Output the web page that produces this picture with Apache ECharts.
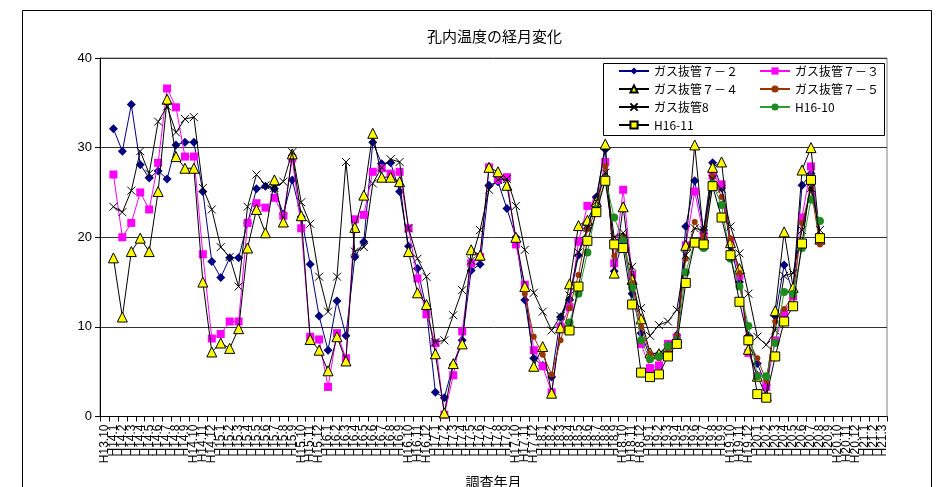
<!DOCTYPE html>
<html>
<head>
<meta charset="utf-8">
<script src="https://cdn.jsdelivr.net/npm/echarts@6/dist/echarts.min.js"></script>
<style>
html,body{margin:0;padding:0;background:#fff;}
#chart{width:952px;height:487px;}
</style>
</head>
<body>
<div id="chart"></div>
<script>
const categories = ['H13.10',
 'H14.1','H14.2','H14.3','H14.4','H14.5','H14.6','H14.7','H14.8','H14.9','H14.10','H14.11','H14.12',
 'H15.1','H15.2','H15.3','H15.4','H15.5','H15.6','H15.7','H15.8','H15.9','H15.10','H15.11','H15.12',
 'H16.1','H16.2','H16.3','H16.4','H16.5','H16.6','H16.7','H16.8','H16.9','H16.10','H16.11','H16.12',
 'H17.1','H17.2','H17.3','H17.4','H17.5','H17.6','H17.7','H17.8','H17.9','H17.10','H17.11','H17.12',
 'H18.1','H18.2','H18.3','H18.4','H18.5','H18.6','H18.7','H18.8','H18.9','H18.10','H18.11','H18.12',
 'H19.1','H19.2','H19.3','H19.4','H19.5','H19.6','H19.7','H19.8','H19.9','H19.10','H19.11','H19.12',
 'H20.1','H20.2','H20.3','H20.4','H20.5','H20.6','H20.7','H20.8','H20.9','H20.10','H20.11','H20.12',
 'H21.1','H21.2','H21.3'];

const yTicks = [0, 10, 20, 30, 40];

const gas72 = [null, 32.1,29.6,34.8,28.1,26.6,27.4,26.5,30.3,30.6,30.6, 25.1,17.3,15.5,17.7,17.7,21.6,25.4,25.7,25.4,22.6,
 26.4,22.3,17.0,11.2,7.4,12.9,9.0,17.8,19.5,30.6, 28.2,28.3,25.1,19.0,16.5,12.0,2.7,2.1,5.8,8.5,
 16.3,17.0,25.8,26.2,23.2,20.0,13.0,6.5,5.7,4.4, 11.1,13.0,18.0,21.0,24.5,29.8,16.2,19.8,13.7,9.3,
 6.7,7.0,8.0,9.1,21.2,26.3,20.8,28.3,25.5,19.0, 15.0,9.0,5.9,3.5,11.2,16.9,13.8,25.8,27.1,20.0];

const gas73 = [null, 27.0,20.0,21.6,25.0,23.1,28.3,36.6,34.5,29.0,29.0, 18.1,8.7,9.2,10.6,10.6,21.6,23.8,23.3,24.4,22.4,
 28.8,21.0,8.9,8.6,3.3,9.3,6.5,22.0,22.5,27.3, 27.7,27.1,27.3,21.0,15.4,11.4,8.2,0.2,4.6,9.5,
 17.1,17.8,27.8,26.4,26.7,19.2,14.7,7.4,5.6,2.7, 10.0,12.2,19.5,23.5,23.8,28.4,17.1,25.3,15.8,8.1,
 5.4,5.7,8.1,8.8,19.1,25.1,20.2,26.9,25.9,19.5, 15.7,7.1,4.5,3.3,8.5,11.5,13.4,22.2,27.9,19.6];

const gas74 = [null, 17.7,11.1,18.4,19.9,18.4,25.1,35.4,29.0,27.7,27.7, 15.0,7.2,8.2,7.6,9.8,18.8,23.1,20.5,26.4,21.7,
 29.3,22.4,8.6,7.4,5.1,8.9,6.2,21.1,24.7,31.6, 26.7,26.7,26.2,18.4,13.8,12.5,7.0,0.4,5.9,8.1,
 18.6,18.0,27.8,27.3,25.8,20.0,14.5,5.6,7.8,2.6, 9.9,14.8,21.3,21.9,24.0,30.4,16.0,23.4,15.3,10.9,
 7.1,7.0,7.8,8.8,19.1,30.3,20.0,27.8,28.4,19.4, 16.5,7.5,4.5,2.3,11.8,20.6,14.4,27.5,30.0,19.8];

const gas75 = Array(47).fill(null).concat([13.7,8.9,6.9,4.7,8.5,12.1,15.8,20.9,23.0,27.9,17.9,20.1,14.9,10.0,7.0,6.5,7.5,9.0,
 17.6,21.7,20.0,26.8,24.5,19.9,16.0,8.5,6.5,4.0,10.6,12.0,13.5,21.6,25.4,19.2]);

const gas8 = [null, 23.4,22.8,25.2,29.6,27.1,32.9,34.6,31.7,33.2,33.4, 25.5,23.1,18.9,17.8,14.5,23.4,27.0,25.8,25.5,26.2,
 29.5,23.9,21.5,15.6,11.7,15.6,28.4,18.4,18.9,26.0, 27.8,28.7,28.4,21.0,17.6,15.6,8.3,8.5,11.3,14.1,
 17.4,20.8,25.3,26.4,26.5,23.5,18.6,13.8,11.7,9.6, 11.2,13.5,18.3,21.0,24.0,27.2,20.0,20.5,16.7,12.1,
 9.0,10.2,10.6,11.9,18.0,21.0,20.8,26.5,25.4,21.2, 18.2,13.7,8.9,8.0,9.6,15.7,16.0,20.8,25.5,20.8];

const h1610 = Array(52).fill(null).concat([10.5,13.7,18.3,23.1,26.5,22.2,19.6,14.4,8.5,6.4,6.7,7.9,8.5,16.1,19.5,18.8,
 26.0,23.6,17.6,14.5,10.1,4.5,4.5,8.2,13.9,13.7,18.8,24.2,21.8]);

const h1611 = Array(52).fill(null).concat([9.6,14.5,19.6,22.8,26.3,19.2,18.8,12.5,4.9,4.4,4.7,6.7,8.1,14.9,19.4,19.2,
 25.7,22.2,18.0,12.8,8.5,2.5,2.1,6.7,10.6,12.3,19.3,26.4,19.9]);

const names = ['ガス抜管７－２','ガス抜管７－３','ガス抜管７－４','ガス抜管７－５','ガス抜管8','H16-10','H16-11'];

const JP = '"Noto Sans CJK JP", sans-serif';
const crossPath = 'path://M0,0L10,10M10,0L0,10';

const styles = [
  {data: gas72, symbol: 'diamond', size: 9, fill: '#000080', border: '#000080', bw: 0, line: '#000080'},
  {data: gas73, symbol: 'rect', size: 8, fill: '#FF00FF', border: '#FF00FF', bw: 0, line: '#FF00FF'},
  {data: gas74, symbol: 'triangle', size: 10, fill: '#FFFF00', border: '#000000', bw: 1, line: '#000000'},
  {data: gas75, symbol: 'circle', size: 6, fill: '#993300', border: '#993300', bw: 0, line: '#993300'},
  {data: gas8, symbol: crossPath, size: 8, fill: '#000000', border: '#000000', bw: 1, line: '#000000'},
  {data: h1610, symbol: 'circle', size: 8, fill: '#1E8C1E', border: '#1E8C1E', bw: 0, line: '#339933'},
  {data: h1611, symbol: 'rect', size: 9, fill: '#FFFF00', border: '#000000', bw: 1, line: '#000000'}
];

const series = styles.map((s, i) => ({
  name: names[i],
  type: 'line',
  data: s.data,
  symbol: s.symbol,
  symbolSize: s.size,
  showAllSymbol: true,
  connectNulls: false,
  lineStyle: {color: s.line, width: 1},
  itemStyle: {color: s.fill, borderColor: s.border, borderWidth: s.bw},
  emphasis: {disabled: true},
  z: 2 + i
}));

const legendPos = [
  [618, 72], [759, 72],
  [618, 90], [759, 90],
  [618, 108], [759, 108],
  [618, 126]
];
const legends = names.map((n, i) => ({
  data: [n],
  left: legendPos[i][0],
  top: legendPos[i][1] - 7,
  padding: 0,
  itemWidth: 30,
  itemHeight: 9,
  itemGap: 0,
  selectedMode: false,
  z: 10,
  textStyle: {fontSize: 12, fontFamily: JP, color: '#000'}
}));

const chart = echarts.init(document.getElementById('chart'), null, {renderer: 'canvas'});
chart.setOption({
  animation: false,
  backgroundColor: '#fff',
  title: {
    text: '孔内温度の経月変化',
    left: 422, top: 24,
    textStyle: {fontSize: 15, fontWeight: 'normal', fontFamily: JP, color: '#000'}
  },
  legend: legends,
  graphic: [
    {type: 'rect', z: 0, silent: true, shape: {x: 22.5, y: 10.5, width: 909, height: 520},
     style: {fill: 'none', stroke: '#000', lineWidth: 1}},
    {type: 'rect', z: 8, silent: true, shape: {x: 603.5, y: 63.5, width: 281, height: 72},
     style: {fill: '#fff', stroke: '#000', lineWidth: 1}}
  ],
  grid: {left: 100, top: 58, width: 787, height: 358.5, show: true, borderColor: '#808080', borderWidth: 1,
         containLabel: false, outerBoundsMode: 'none'},
  xAxis: {
    type: 'category',
    data: categories,
    boundaryGap: true,
    name: '調査年月',
    nameLocation: 'middle',
    nameGap: 58,
    nameTextStyle: {fontSize: 14, fontFamily: JP, color: '#000'},
    axisLine: {lineStyle: {color: '#000', width: 1}},
    axisTick: {show: true, interval: 0, length: 5, lineStyle: {color: '#000'}},
    axisLabel: {interval: 0, rotate: 90, fontSize: 12, margin: 8, color: '#000', fontFamily: '"Liberation Sans", Arial, sans-serif'},
    splitLine: {show: false}
  },
  yAxis: {
    type: 'value',
    min: yTicks[0], max: yTicks[yTicks.length - 1], interval: 10,
    axisLine: {show: true, lineStyle: {color: '#000', width: 1}},
    axisTick: {show: true, length: 5, lineStyle: {color: '#000'}},
    axisLabel: {fontSize: 13, margin: 8, color: '#000', fontFamily: '"Liberation Sans", Arial, sans-serif'},
    splitLine: {show: true, lineStyle: {color: '#333', width: 1}}
  },
  series: series
});
</script>
</body>
</html>
